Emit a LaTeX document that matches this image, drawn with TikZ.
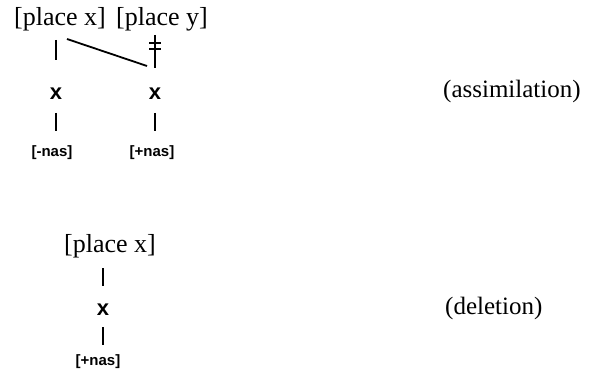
\documentclass[tikz,border=0pt]{standalone}
\usepackage{fontspec}
\setmainfont{Liberation Serif}
\newfontfamily\segsans{Liberation Sans}
\tikzset{
  tier/.style={inner sep=0pt, anchor=base, font=\fontsize{26}{26}\selectfont},
  seg/.style={inner sep=0pt, anchor=base, font=\segsans\bfseries\fontsize{22}{22}\selectfont},
  feat/.style={inner sep=0pt, anchor=base, font=\segsans\bfseries\fontsize{15}{15}\selectfont},
  lbl/.style={inner sep=0pt, anchor=base west, font=\fontsize{25}{25}\selectfont},
  assoc/.style={line width=2.4pt},
  delink/.style={line width=1.8pt},
  spread/.style={line width=1.8pt},
}
\begin{document}
\begin{tikzpicture}[x=1pt,y=-1pt]
\useasboundingbox (0,0) rectangle (599,379);
% ---- assimilation ----
\node[tier] (pxa) at (60,26) {[place x]};
\node[tier] (pya) at (162,26) {[place y]};
\node[seg] (x1) at (56,100) {x};
\node[seg] (x2) at (155,100) {x};
\node[feat] (n1) at (52,157) {[-nas]};
\node[feat] (n2) at (152,157) {[+nas]};
\node[lbl] (assim) at (443,98) {(assimilation)};
\coordinate (a1) at (56,40);  \coordinate (a2) at (56,60);
\coordinate (b1) at (155,35); \coordinate (b2) at (155,68);
\coordinate (h1l) at (149,43); \coordinate (h1r) at (161,43);
\coordinate (h2l) at (149,49); \coordinate (h2r) at (161,49);
\coordinate (c1) at (56,113); \coordinate (c2) at (56,131);
\coordinate (d1) at (155,113); \coordinate (d2) at (155,131);
\coordinate (s1) at (67,39); \coordinate (s2) at (147,66);
\draw[assoc] (a1) -- (a2);
\draw[assoc] (b1) -- (b2);
\draw[delink] (h1l) -- (h1r);
\draw[delink] (h2l) -- (h2r);
\draw[spread] (s1) -- (s2);
\draw[assoc] (c1) -- (c2);
\draw[assoc] (d1) -- (d2);
% ---- deletion ----
\node[tier] (pxd) at (110,252) {[place x]};
\node[seg] (x3) at (103,315) {x};
\node[feat] (n3) at (98,365) {[+nas]};
\node[lbl] (del) at (445,314) {(deletion)};
\coordinate (e1) at (103,268); \coordinate (e2) at (103,286);
\coordinate (f1) at (103,327); \coordinate (f2) at (103,345);
\draw[assoc] (e1) -- (e2);
\draw[assoc] (f1) -- (f2);
\end{tikzpicture}
\end{document}
